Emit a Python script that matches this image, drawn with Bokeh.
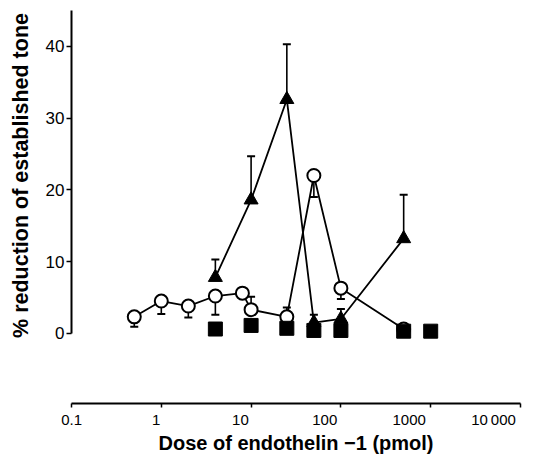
from bokeh.plotting import figure
from bokeh.models import LogAxis, LinearAxis, FixedTicker, Range1d, LogScale, ColumnDataSource
from bokeh.embed import file_html
from bokeh.resources import INLINE

# ---------------- data ----------------
x_ticks = [0.1, 1, 10, 100, 1000, 10000]
x_tick_labels = ["0.1", "1", "10", "100", "1000", "10\u2009000"]
y_ticks = [0, 10, 20, 30, 40]

# open circles
circ_dose = [0.5, 1, 2, 4, 8, 10, 25, 50, 100, 500]
circ_mean = [2.3, 4.5, 3.8, 5.2, 5.6, 3.3, 2.3, 22.0, 6.3, 0.6]
circ_bar_end = [0.9, 2.7, 2.2, 2.6, 5.6, 5.1, 3.6, 19.0, 4.8, 0.6]

# filled triangles
tri_dose = [4, 10, 25, 50, 100, 500]
tri_mean = [7.8, 18.6, 32.6, 1.5, 2.0, 13.2]
tri_bar_end = [10.3, 24.7, 40.3, 2.6, 3.4, 19.3]

# filled squares
sq_dose = [4, 10, 25, 50, 100, 500, 1000]
sq_mean = [0.6, 1.1, 0.7, 0.4, 0.4, 0.3, 0.3]

FONT = "Liberation Sans"

p = figure(width=545, height=456, output_backend="svg", toolbar_location=None,
           x_axis_type="log", x_axis_location=None, y_axis_location=None,
           x_range=Range1d(0.1, 10000), y_range=Range1d(-1.0, 45),
           min_border_left=71, min_border_right=25, min_border_top=10, min_border_bottom=116)
p.outline_line_color = None
p.background_fill_color = "white"
p.border_fill_color = "white"
for g in p.grid:
    g.visible = False

# printed tick-label scale of the original (labels drift left of their ticks)
p.extra_x_ranges = {"lab": Range1d(10 ** -1.0024, 10 ** 4.3196)}
p.extra_x_scales = {"lab": LogScale()}

# empty gap: the dose axis is drawn detached below the data area
gap = LogAxis(ticker=FixedTicker(ticks=[1], minor_ticks=[]), axis_line_color=None,
              major_tick_line_color="white", minor_tick_line_color=None,
              major_tick_out=63, major_tick_in=0, minor_tick_out=0, minor_tick_in=0,
              major_label_standoff=0, major_label_text_font_size="1px",
              major_label_text_color=None)
p.add_layout(gap, "below")

# x axis: line and ticks
ax_ticks = LogAxis(ticker=FixedTicker(ticks=x_ticks, minor_ticks=[]), bounds=(0.1, 10000),
                   axis_line_width=2, axis_line_color="black",
                   major_tick_out=4, major_tick_in=0, major_tick_line_width=1.5,
                   minor_tick_out=0, minor_tick_in=0,
                   major_label_text_font_size="1px", major_label_text_color=None,
                   major_label_standoff=0)
p.add_layout(ax_ticks, "below")

# x axis: labels and title
ax_labels = LogAxis(x_range_name="lab", ticker=FixedTicker(ticks=x_ticks, minor_ticks=[]),
                    bounds=(0.1, 10000), axis_line_color=None, major_tick_line_color=None,
                    minor_tick_line_color=None, major_tick_out=0, major_tick_in=0,
                    major_label_overrides={t: s for t, s in zip(x_ticks, x_tick_labels)},
                    major_label_standoff=3, major_label_text_font=FONT,
                    major_label_text_font_size="15px", major_label_text_color="black",
                    axis_label="Dose of endothelin \u22121 (pmol)", axis_label_text_font=FONT,
                    axis_label_text_font_size="20px", axis_label_text_font_style="bold",
                    axis_label_text_color="black", axis_label_standoff=1)
p.add_layout(ax_labels, "below")

# y axis
ay = LinearAxis(ticker=FixedTicker(ticks=y_ticks, minor_ticks=[]), bounds=(0, 45),
                axis_line_width=2, axis_line_color="black",
                major_tick_out=5, major_tick_in=0, major_tick_line_width=1.5,
                minor_tick_out=0, minor_tick_in=0,
                major_label_standoff=2, major_label_text_font=FONT,
                major_label_text_font_size="17px", major_label_text_color="black",
                axis_label="% reduction of established tone", axis_label_text_font=FONT,
                axis_label_text_font_size="21.5px", axis_label_text_font_style="bold",
                axis_label_text_color="black", axis_label_standoff=10)
p.add_layout(ay, "left")

circ = ColumnDataSource(dict(x=circ_dose, y=circ_mean, e=circ_bar_end))
tri = ColumnDataSource(dict(x=tri_dose, y=tri_mean, e=tri_bar_end))
sq = ColumnDataSource(dict(x=sq_dose, y=sq_mean))

# connecting lines
p.line("x", "y", source=circ, line_color="black", line_width=1.8)
p.line("x", "y", source=tri, line_color="black", line_width=1.8)

# error bars
for src in (circ, tri):
    p.segment(x0="x", y0="y", x1="x", y1="e", source=src, line_color="black", line_width=1.6)
    p.scatter("x", "e", source=src, marker="dash", size=8, line_color="black", line_width=2)

# markers
p.scatter("x", "y", source=circ, marker="circle", size=13, fill_color="white",
          line_color="black", line_width=2)
p.scatter("x", "y", source=tri, marker="triangle", size=14, fill_color="black", line_color="black")
p.scatter("x", "y", source=sq, marker="square", size=14, fill_color="black", line_color="black")

open("out.html", "w").write(file_html(p, INLINE))
